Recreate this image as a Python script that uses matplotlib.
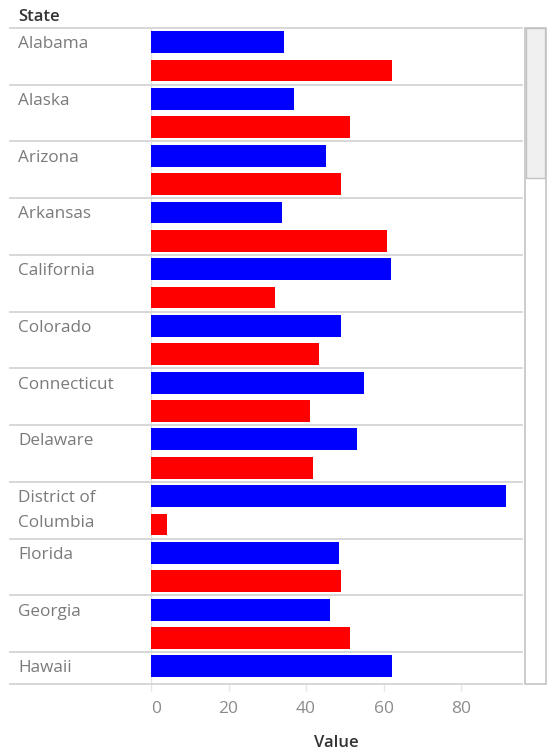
import matplotlib.pyplot as plt
import matplotlib.transforms as mtransforms
from matplotlib.patches import Rectangle

# data (share of vote, %)
states = ["Alabama", "Alaska", "Arizona", "Arkansas", "California", "Colorado",
          "Connecticut", "Delaware", "District of\nColumbia", "Florida", "Georgia", "Hawaii"]
dem = [34.4, 36.9, 45.1, 33.7, 62.0, 48.9, 55.0, 53.2, 91.5, 48.4, 46.1, 62.1]
rep = [62.1, 51.3, 49.0, 60.8, 32.0, 43.3, 40.9, 41.9, 4.1, 49.0, 51.3, 30.0]
xticks = [0, 20, 40, 60, 80]

W, H = 549, 752
plt.rcParams['font.family'] = ['Open Sans', 'DejaVu Sans']

fig = plt.figure(figsize=(W / 100, H / 100), dpi=100)
ax = fig.add_axes([151 / W, 1 - 684 / H, (522 - 151) / W, (684 - 28) / H])

ypos_d = [2 * i for i in range(len(states))]
ypos_r = [2 * i + 1 for i in range(len(states))]
ax.barh(ypos_d, dem, height=0.77, color="#0000ff", zorder=3)
ax.barh(ypos_r, rep, height=0.77, color="#ff0000", zorder=3)

ybot = 22.62
ax.set_xlim(0, 95.7)
ax.set_ylim(ybot, -0.5)
for s in ax.spines.values():
    s.set_visible(False)
ax.set_yticks([])
ax.set_xticks(xticks)
ax.set_xticklabels([str(t) for t in xticks])
ax.tick_params(axis="x", length=5, width=1, color="#e6e6e6", labelcolor="#8c8c8c",
               labelsize=12.5, pad=7)
ax.get_xticklabels()[0].set_horizontalalignment("left")
ax.axvline(0, color="#e0e0e0", lw=1, zorder=1)
ax.set_xlabel("Value", color="#333333", fontsize=12, labelpad=13, fontweight="semibold")

# row separators and labels, spanning the label pane
tr = mtransforms.blended_transform_factory(fig.transFigure, ax.transData)
for i in range(len(states)):
    y = 2 * i - 0.5
    ax.plot([10 / W, 522 / W], [y, y], transform=tr, color="#d4d4d4", lw=1.3,
            clip_on=False, zorder=2)
ax.plot([10 / W, 522 / W], [ybot, ybot], transform=tr, color="#d4d4d4", lw=1.3,
        clip_on=False, zorder=4)

for i, name in enumerate(states):
    for k, line in enumerate(name.split("\n")):
        ax.text(18 / W, 2 * i + 0.07 + k * 0.88, line, transform=tr, color="#7a7a7a",
                fontsize=12.3, va="center", ha="left")

fig.text(18 / W, 1 - 17 / H, "State", color="#333333", fontsize=12, va="center",
         fontweight="semibold")

# scrollbar
fig.patches.append(Rectangle((525 / W, 1 - 684 / H), 21 / W, 656 / H, transform=fig.transFigure,
                             facecolor="white", edgecolor="#c3c3c3", lw=1.2))
fig.patches.append(Rectangle((526 / W, 1 - 178 / H), 19 / W, 150 / H, transform=fig.transFigure,
                             facecolor="#f0f0f0", edgecolor="#c3c3c3", lw=1.0))

fig.savefig("out.png", dpi=100)
